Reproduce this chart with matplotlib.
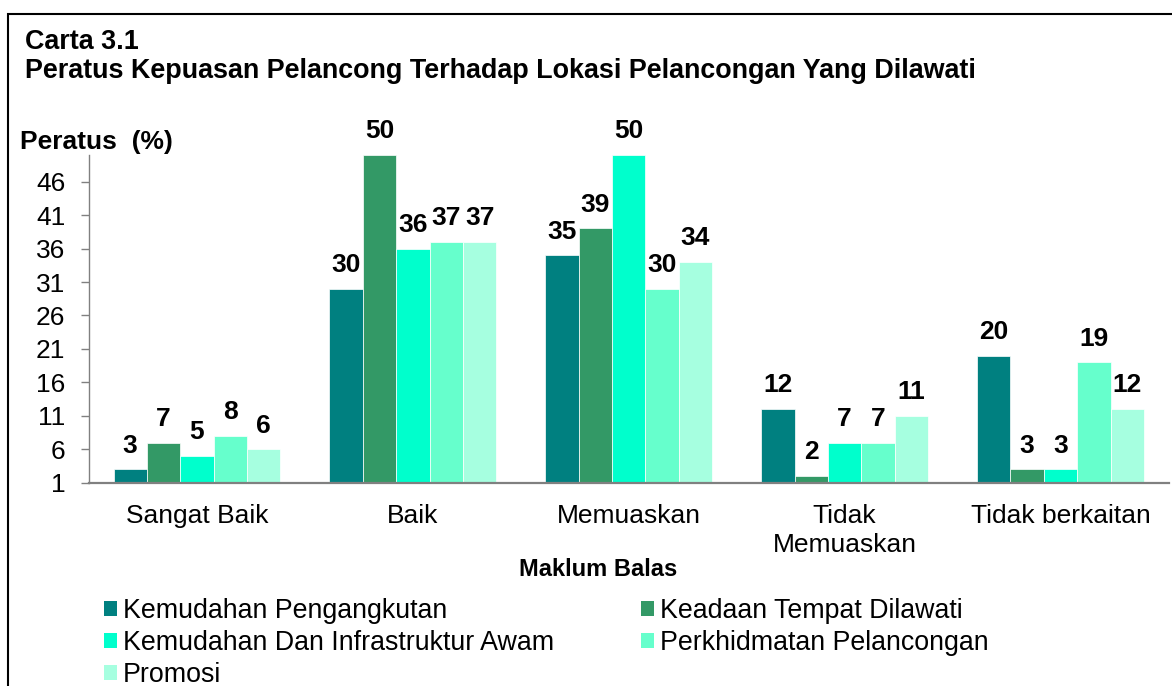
import numpy as np
import matplotlib
matplotlib.use('Agg')
import matplotlib.pyplot as plt
from matplotlib.patches import Rectangle, Patch

plt.rcParams['font.family'] = ['Liberation Sans', 'DejaVu Sans']

# Data
categories = ['Sangat Baik', 'Baik', 'Memuaskan', 'Tidak\nMemuaskan', 'Tidak berkaitan']
series_names = [
    'Kemudahan Pengangkutan',
    'Keadaan Tempat Dilawati',
    'Kemudahan Dan Infrastruktur Awam',
    'Perkhidmatan Pelancongan',
    'Promosi',
]
pengangkutan = [3, 30, 35, 12, 20]
tempat = [7, 50, 39, 2, 3]
infrastruktur = [5, 36, 50, 7, 3]
perkhidmatan = [8, 37, 30, 7, 19]
promosi = [6, 37, 34, 11, 12]
yticks = [1, 6, 11, 16, 21, 26, 31, 36, 41, 46]

series = [pengangkutan, tempat, infrastruktur, perkhidmatan, promosi]
colors = ['#008080', '#339966', '#00FFCC', '#66FFCC', '#A6FFE0']

W, H = 1172, 686
fig = plt.figure(figsize=(W / 100, H / 100), dpi=100)
ax = fig.add_axes([89 / W, 1 - 482.7 / H, (1168.5 - 89) / W, (482.7 - 154.9) / H])

x = np.arange(len(categories))
bw = 0.1546
handles = []
for i, (vals, col, name) in enumerate(zip(series, colors, series_names)):
    pos = x + (i - 2) * bw
    ax.bar(pos, vals, width=bw, color=col, edgecolor='white',
           linewidth=0.5, label=name)
    handles.append(Patch(facecolor=col, edgecolor='none', label=name))
    for px, v in zip(pos, vals):
        ax.annotate(str(v), (px, v), xytext=(0, 12), textcoords='offset points',
                    ha='center', va='baseline', fontsize=19, fontweight='bold')

ax.set_xlim(-0.5, 4.5)
ax.set_ylim(1, 50)
ax.set_yticks(yticks)
ax.set_xticks(x)
ax.set_xticklabels(categories, fontsize=19, linespacing=1.3)
ax.tick_params(axis='x', length=0, pad=15)
ax.tick_params(axis='y', length=6, width=1, color='#808080', labelsize=19, pad=11)
for s in ['top', 'right']:
    ax.spines[s].set_visible(False)
ax.spines['left'].set_color('#808080')
ax.spines['left'].set_linewidth(1.0)
ax.spines['bottom'].set_color('#808080')
ax.spines['bottom'].set_linewidth(1.6)

fig.text(25 / W, 1 - 42 / H, 'Carta 3.1', fontsize=19.4, fontweight='bold',
         ha='left', va='center')
fig.text(25 / W, 1 - 71 / H,
         'Peratus Kepuasan Pelancong Terhadap Lokasi Pelancongan Yang Dilawati',
         fontsize=19.4, fontweight='bold', ha='left', va='center')
fig.text(20 / W, 1 - 142 / H, 'Peratus  (%)', fontsize=19, fontweight='bold',
         ha='left', va='center')
fig.text(598 / W, 1 - 570 / H, 'Maklum Balas', fontsize=17, fontweight='bold',
         ha='center', va='center')

# legend laid out in rows of two like the original
leg_kw = dict(frameon=False, fontsize=19.3, handlelength=0.5, handleheight=0.5,
              handletextpad=0.2, labelspacing=0.22, borderpad=0, borderaxespad=0,
              loc='upper left')
fig.legend(handles=[handles[0], handles[2], handles[4]],
           bbox_to_anchor=(104 / W, 1 - 598 / H), **leg_kw)
fig.legend(handles=[handles[1], handles[3]],
           bbox_to_anchor=(641 / W, 1 - 598 / H), **leg_kw)

# outer frame
fig.patches.append(Rectangle((8 / W, -0.1), 1.2, 1 - 13.5 / H + 0.1,
                             transform=fig.transFigure, fill=False,
                             edgecolor='black', linewidth=1.5))

fig.savefig('out.png', dpi=100)
